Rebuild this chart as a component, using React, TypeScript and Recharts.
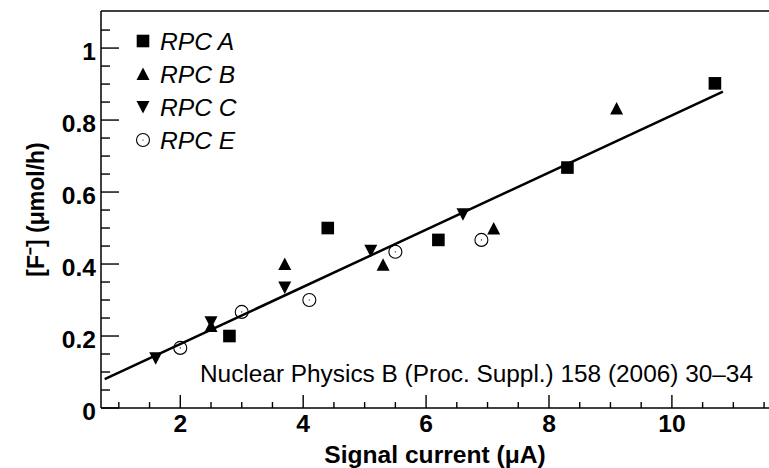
import { ReferenceLine, Scatter, ScatterChart, XAxis, YAxis } from 'recharts';

const rpcA = [
  { x: 2.8, y: 0.2 },
  { x: 4.4, y: 0.5 },
  { x: 6.2, y: 0.467 },
  { x: 8.3, y: 0.668 },
  { x: 10.7, y: 0.902 },
];
const rpcB = [
  { x: 2.5, y: 0.228 },
  { x: 3.7, y: 0.4 },
  { x: 5.3, y: 0.398 },
  { x: 7.1, y: 0.499 },
  { x: 9.1, y: 0.832 },
];
const rpcC = [
  { x: 1.6, y: 0.138 },
  { x: 2.5, y: 0.238 },
  { x: 3.7, y: 0.335 },
  { x: 5.1, y: 0.437 },
  { x: 6.6, y: 0.538 },
];
const rpcE = [
  { x: 2.0, y: 0.167 },
  { x: 3.0, y: 0.267 },
  { x: 4.1, y: 0.3 },
  { x: 5.5, y: 0.434 },
  { x: 6.9, y: 0.467 },
];
const fitLine = [
  { x: 0.77, y: 0.08 },
  { x: 10.83, y: 0.879 },
];

const xTicks = [1, 1.5, 2, 2.5, 3, 3.5, 4, 4.5, 5, 5.5, 6, 6.5, 7, 7.5, 8, 8.5, 9, 9.5, 10, 10.5, 11, 11.5];
const xLabels = [2, 4, 6, 8, 10];
const yTicks = [0, 0.05, 0.1, 0.15, 0.2, 0.25, 0.3, 0.35, 0.4, 0.45, 0.5, 0.55, 0.6, 0.65, 0.7, 0.75, 0.8, 0.85, 0.9, 0.95, 1, 1.05];
const yLabels = [0, 0.2, 0.4, 0.6, 0.8, 1];

const xDomain = [0.71, 11.58];
const yDomain = [0, 1.103];

const legendItems = [
  { name: 'RPC A', marker: 'square' },
  { name: 'RPC B', marker: 'up' },
  { name: 'RPC C', marker: 'down' },
  { name: 'RPC E', marker: 'circle' },
];

const FONT = '"Liberation Sans", Arial, Helvetica, sans-serif';
const STRETCH = 1.07;

function Marker({ kind, cx, cy }: { kind: string; cx: number; cy: number }) {
  if (kind === 'square') {
    return <rect x={cx - 6.3} y={cy - 6.3} width={12.6} height={12.6} fill="#000" />;
  }
  if (kind === 'up') {
    return <polygon points={`${cx - 6.5},${cy + 6} ${cx + 6.5},${cy + 6} ${cx},${cy - 6.5}`} fill="#000" />;
  }
  if (kind === 'down') {
    return <polygon points={`${cx - 6.5},${cy - 6} ${cx + 6.5},${cy - 6} ${cx},${cy + 6.5}`} fill="#000" />;
  }
  return (
    <g>
      <circle cx={cx} cy={cy} r={6.5} fill="none" stroke="#000" strokeWidth={1.1} />
      <circle cx={cx} cy={cy} r={0.6} fill="#000" />
    </g>
  );
}

const shapeOf = (kind: string) => (props: any) => <Marker kind={kind} cx={props.cx} cy={props.cy} />;

const near = (list: number[], v: number) => list.some((l) => Math.abs(l - v) < 1e-6);

function XTick(props: any) {
  const { x, y, payload } = props;
  const major = near(xLabels, payload.value);
  return (
    <g>
      <line x1={x} x2={x} y1={y} y2={y - (major ? 13 : 6)} stroke="#000" strokeWidth={1.4} />
      {major && (
        <text
          transform={`translate(${x},${y + 24}) scale(${STRETCH},1)`}
          textAnchor="middle"
          fontFamily={FONT}
          fontWeight="bold"
          fontSize={23}
          fill="#000"
        >
          {payload.value}
        </text>
      )}
    </g>
  );
}

function YTick(props: any) {
  const { x, y, payload } = props;
  const major = near(yLabels, payload.value);
  return (
    <g>
      <line x1={x} x2={x + (major ? 18 : 9)} y1={y} y2={y} stroke="#000" strokeWidth={1.4} />
      {major && (
        <text
          transform={`translate(${x - 5},${y + 12}) scale(${STRETCH},1)`}
          textAnchor="end"
          fontFamily={FONT}
          fontWeight="bold"
          fontSize={23}
          fill="#000"
        >
          {payload.value}
        </text>
      )}
    </g>
  );
}

const XTitle = (props: any) => {
  const { x, width } = props.viewBox;
  return (
    <text
      transform={`translate(${x + width / 2},463) scale(${STRETCH},1)`}
      textAnchor="middle"
      fontFamily={FONT}
      fontWeight="bold"
      fontSize={23}
      fill="#000"
    >
      Signal current (μA)
    </text>
  );
};

const YTitle = (props: any) => {
  const { y, height } = props.viewBox;
  return (
    <text
      transform={`translate(44,${y + height / 2}) rotate(-90)`}
      textAnchor="middle"
      fontFamily={FONT}
      fontWeight="bold"
      fontSize={23}
      fill="#000"
    >
      [F⁻] (μmol/h)
    </text>
  );
};

export default function App() {
  return (
    <div style={{ position: 'absolute', left: 0, top: 0, width: 769, height: 468, background: '#fff' }}>
      <ScatterChart width={769} height={468} margin={{ top: 11, right: 0, bottom: 0, left: 0 }}>
        <XAxis
          type="number"
          dataKey="x"
          domain={xDomain}
          allowDataOverflow
          ticks={xTicks}
          interval={0}
          tickSize={0}
          tickMargin={0}
          tickLine={false}
          tick={<XTick />}
          height={60}
          axisLine={{ stroke: '#000', strokeWidth: 1.5 }}
          label={XTitle}
        />
        <YAxis
          type="number"
          dataKey="y"
          domain={yDomain}
          allowDataOverflow
          ticks={yTicks}
          interval={0}
          tickSize={0}
          tickMargin={0}
          tickLine={false}
          tick={<YTick />}
          width={101}
          axisLine={{ stroke: '#000', strokeWidth: 1.5 }}
          label={YTitle}
        />
        <ReferenceLine y={yDomain[1]} stroke="#000" strokeWidth={1.5} ifOverflow="visible" />
        <Scatter
          data={fitLine}
          line={{ stroke: '#000', strokeWidth: 2.5 }}
          shape={() => <g />}
          isAnimationActive={false}
        />
        <Scatter data={rpcA} shape={shapeOf('square')} isAnimationActive={false} />
        <Scatter data={rpcB} shape={shapeOf('up')} isAnimationActive={false} />
        <Scatter data={rpcC} shape={shapeOf('down')} isAnimationActive={false} />
        <Scatter data={rpcE} shape={shapeOf('circle')} isAnimationActive={false} />
      </ScatterChart>
      <svg width={769} height={468} style={{ position: 'absolute', left: 0, top: 0, pointerEvents: 'none' }}>
        {legendItems.map((item, i) => (
          <g key={item.name}>
            <Marker kind={item.marker} cx={143} cy={41 + i * 33} />
            <text
              transform={`translate(160,${50 + i * 33}) scale(${STRETCH},1)`}
              fontFamily={FONT}
              fontStyle="italic"
              fontSize={23}
              fill="#000"
            >
              {item.name}
            </text>
          </g>
        ))}
        <text
          x={200}
          y={382}
          fontFamily={FONT}
          fontSize={23}
          fill="#000"
          textLength={553}
          lengthAdjust="spacingAndGlyphs"
        >
          Nuclear Physics B (Proc. Suppl.) 158 (2006) 30–34
        </text>
      </svg>
    </div>
  );
}
